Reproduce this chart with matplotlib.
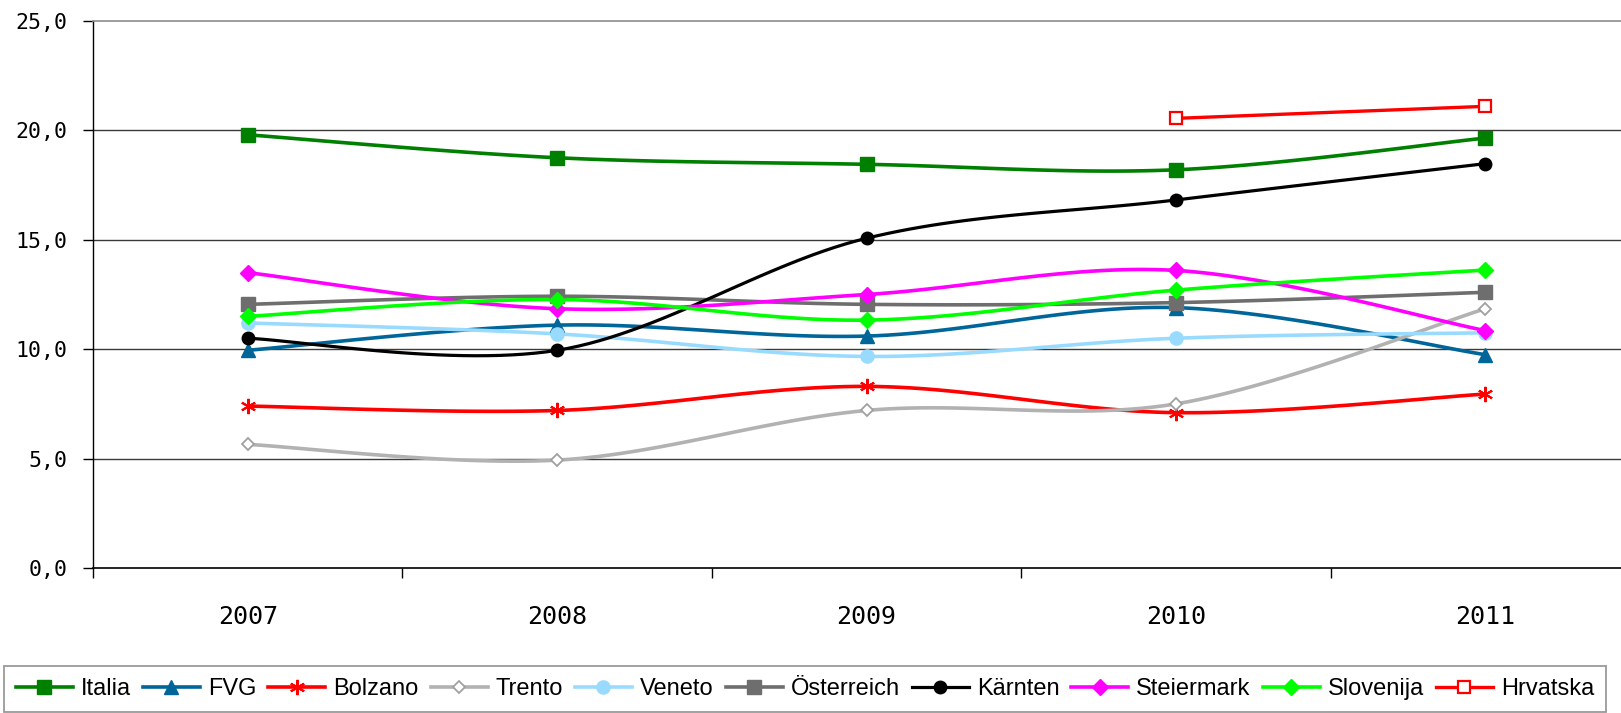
import numpy as np
import matplotlib
matplotlib.use("Agg")
import matplotlib.pyplot as plt
from matplotlib import font_manager as fm
from matplotlib.ticker import FixedLocator, NullFormatter

# ---------------- data ----------------
years = ["2007", "2008", "2009", "2010", "2011"]
italia = [19.8, 18.75, 18.45, 18.2, 19.65]
fvg = [9.95, 11.1, 10.6, 11.9, 9.75]
bolzano = [7.4, 7.2, 8.3, 7.1, 7.95]
trento = [5.65, 4.93, 7.2, 7.5, 11.85]
veneto = [11.2, 10.7, 9.67, 10.5, 10.75]
oesterreich = [12.05, 12.42, 12.05, 12.13, 12.6]
kaernten = [10.5, 9.95, 15.07, 16.82, 18.48]
steiermark = [13.5, 11.85, 12.5, 13.6, 10.85]
slovenija = [11.5, 12.27, 11.33, 12.7, 13.62]
hrvatska = [np.nan, np.nan, np.nan, 20.55, 21.1]

series_names = ["Italia", "FVG", "Bolzano", "Trento", "Veneto", "Österreich",
                "Kärnten", "Steiermark", "Slovenija", "Hrvatska"]
series_values = [italia, fvg, bolzano, trento, veneto, oesterreich,
                 kaernten, steiermark, slovenija, hrvatska]

yticks = [0, 5, 10, 15, 20, 25]
ytick_labels = ["0,0", "5,0", "10,0", "15,0", "20,0", "25,0"]

# ---------------- styles ----------------
styles = {
    "Italia":     dict(color="#008000", marker="s", ms=9.5, mfc="#008000", mec="#008000", lw=2.6),
    "FVG":        dict(color="#006699", marker="^", ms=10, mfc="#006699", mec="#006699", lw=2.6),
    "Bolzano":    dict(color="#ff0000", marker=(6, 2, 0), ms=11, mfc="#ff0000", mec="#ff0000", lw=2.6, mew=1.5),
    "Trento":     dict(color="#b2b2b2", marker="D", ms=6, mfc="white", mec="#a0a0a0", lw=2.6, mew=1.3),
    "Veneto":     dict(color="#99dbff", marker="o", ms=9.5, mfc="#99dbff", mec="#99dbff", lw=2.6),
    "Österreich": dict(color="#6e6e6e", marker="s", ms=9.5, mfc="#6e6e6e", mec="#6e6e6e", lw=2.6),
    "Kärnten":    dict(color="#000000", marker="o", ms=9, mfc="#000000", mec="#000000", lw=2.3),
    "Steiermark": dict(color="#ff00ff", marker="D", ms=8, mfc="#ff00ff", mec="#ff00ff", lw=2.6),
    "Slovenija":  dict(color="#00ff00", marker="D", ms=8, mfc="#00ff00", mec="#00ff00", lw=2.6),
    "Hrvatska":   dict(color="#ff0000", marker="s", ms=8.5, mfc="white", mec="#ff0000", lw=2.4, mew=1.6),
}


def smooth(xs, ys, n=30):
    """Excel-like smoothed line (Catmull-Rom Bezier) through valid points."""
    xs = np.asarray(xs, float)
    ys = np.asarray(ys, float)
    m = len(xs)
    if m < 2:
        return xs, ys
    P = np.column_stack([xs, ys])
    out = []
    t = np.linspace(0, 1, n)
    for i in range(m - 1):
        p0 = P[i]
        p3 = P[i + 1]
        pm = P[i - 1] if i > 0 else P[i]
        pp = P[i + 2] if i + 2 < m else P[i + 1]
        c1 = p0 + (p3 - pm) / 6.0
        c2 = p3 - (pp - p0) / 6.0
        seg = ((1 - t) ** 3)[:, None] * p0 + (3 * (1 - t) ** 2 * t)[:, None] * c1 \
            + (3 * (1 - t) * t ** 2)[:, None] * c2 + (t ** 3)[:, None] * p3
        out.append(seg if i == 0 else seg[1:])
    out = np.vstack(out)
    return out[:, 0], out[:, 1]


names_avail = {f.name for f in fm.fontManager.ttflist}
if "Liberation Sans Narrow" in names_avail:
    legend_font, legend_size = "Liberation Sans Narrow", 21
else:
    legend_font, legend_size = "Liberation Sans", 17
em = legend_size / 72 * 100  # px

tick_font = "DejaVu Sans Mono"

fig = plt.figure(figsize=(16.21, 7.13), dpi=100)
W, H = 1621.0, 713.0
ax = fig.add_axes([93 / W, (H - 568) / H, (1640 - 93) / W, (568 - 21) / H])

x = np.arange(len(years))
handles = []
for name, vals in zip(series_names, series_values):
    st = styles[name]
    v = np.asarray(vals, float)
    valid = ~np.isnan(v)
    sx, sy = smooth(x[valid], v[valid])
    ax.plot(sx, sy, color=st["color"], lw=st["lw"], solid_capstyle="round", zorder=3)
    ax.plot(x[valid], v[valid], ls="none", marker=st["marker"], ms=st["ms"],
            mfc=st["mfc"], mec=st["mec"], mew=st.get("mew", 1.0), zorder=4)
    h, = ax.plot([], [], color=st["color"], lw=st["lw"], marker=st["marker"],
                 ms=st["ms"], mfc=st["mfc"], mec=st["mec"], mew=st.get("mew", 1.0))
    handles.append(h)

ax.set_xlim(-0.5, len(years) - 0.5)
ax.set_ylim(0, 25)

# grid
for yv in yticks[1:-1]:
    ax.axhline(yv, color="#3a3a3a", lw=1.0, zorder=1)

ax.spines["right"].set_visible(False)
ax.spines["top"].set_color("#8c8c8c")
ax.spines["top"].set_linewidth(1.2)
ax.spines["left"].set_color("#000000")
ax.spines["bottom"].set_color("#000000")
ax.spines["left"].set_linewidth(1.0)
ax.spines["bottom"].set_linewidth(1.2)

ax.set_yticks(yticks)
ax.set_yticklabels(ytick_labels, fontsize=15.5, family=tick_font)
ax.tick_params(axis="y", direction="out", length=10 * 0.72, width=1.0, pad=11, colors="black")

ax.set_xticks(x)
ax.set_xticklabels(years, fontsize=18, family=tick_font)
ax.tick_params(axis="x", which="major", length=0, pad=27)
ax.xaxis.set_minor_locator(FixedLocator(np.arange(-0.5, len(years), 1.0)))
ax.xaxis.set_minor_formatter(NullFormatter())
ax.tick_params(axis="x", which="minor", direction="out", length=10 * 0.72, width=1.0)

leg = fig.legend(handles, series_names, loc="upper left",
                 bbox_to_anchor=(4 / W, 1 - 666 / H), bbox_transform=fig.transFigure,
                 ncol=len(series_names), frameon=True, fancybox=False,
                 prop=dict(family=legend_font, size=legend_size),
                 handlelength=57 / em, handletextpad=8 / em, columnspacing=12 / em,
                 borderpad=0.5, borderaxespad=0)
leg.get_frame().set_edgecolor("#808080")
leg.get_frame().set_linewidth(1.3)

fig.savefig("out.png", dpi=100)
